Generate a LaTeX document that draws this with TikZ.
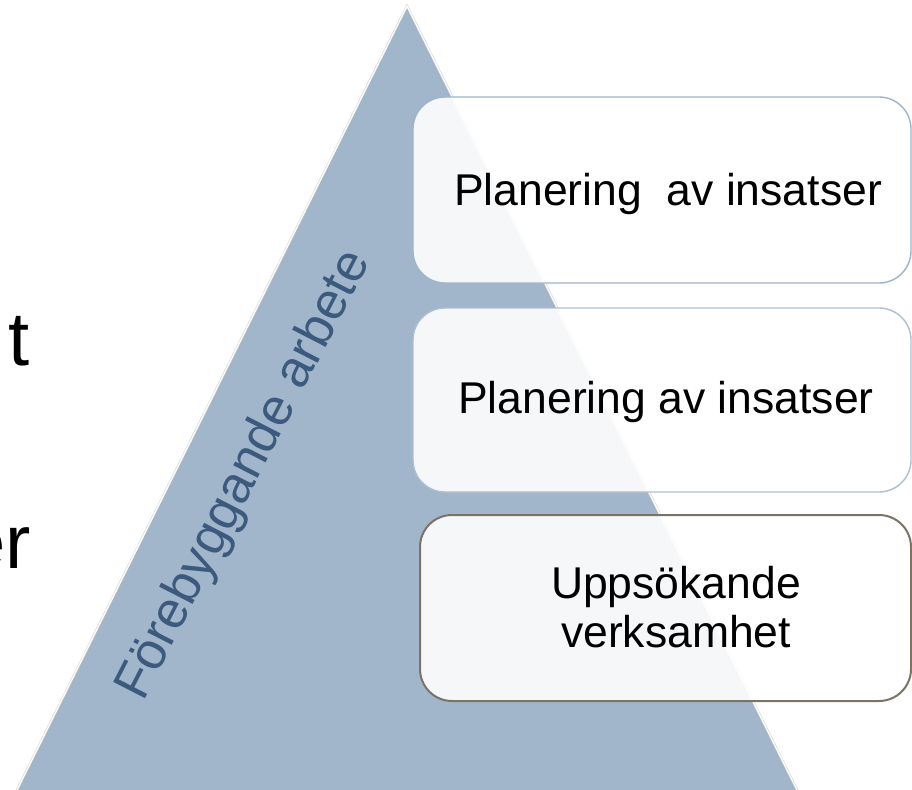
\documentclass[tikz,border=0pt]{standalone}
\usepackage{fontspec}
\setmainfont{Liberation Sans}
\definecolor{pyrfill}{HTML}{A1B6CA}
\definecolor{pyrtext}{HTML}{3B5A7E}
\definecolor{boxlineA}{HTML}{9FB4C9}
\definecolor{boxlineC}{HTML}{7A7466}
\begin{document}
\begin{tikzpicture}[x=1pt,y=-1pt,
  boxstyle/.style={rounded corners=32pt, fill=white, fill opacity=0.9, line width=1.4pt},
  boxtext/.style={font=\fontsize{44.5}{49}\selectfont, text=black, inner sep=0pt, align=center},
  bigtext/.style={font=\fontsize{76}{90}\selectfont, text=black, inner sep=0pt}]
\useasboundingbox (0,0) rectangle (912,789);
\clip (0,0) rectangle (912,789);
% pyramid
\coordinate (apex) at (407,6);
\coordinate (bl) at (12,800);
\coordinate (br) at (802,800);
\fill[pyrfill] (apex) -- (br) -- (bl) -- cycle;
\draw[black!22, line width=0.4pt, double=white, double distance=1.4pt] (bl) -- (apex) -- (br);
% cut-off left text
\node[bigtext, anchor=base east] (tchar) at (30,365) {t};
\node[bigtext, anchor=base east] (erchar) at (31,568) {er};
% rotated pyramid label
\node[anchor=base west, rotate=62.8, inner sep=0pt, text=pyrtext,
      font=\fontsize{52}{60}\selectfont] (pyrlabel) at (143,703) {Förebyggande arbete};
% boxes
\draw[boxstyle, draw=boxlineA] (413,97) rectangle (911,283);
\draw[boxstyle, draw=boxlineA!85] (413,308) rectangle (911,492);
\draw[boxstyle, draw=boxlineC, line width=2pt] (420,515) rectangle (911,701);
\node[boxtext, anchor=base] (b1) at (668,205) {Planering\ \ av insatser};
\node[boxtext, anchor=base] (b2) at (666,413) {Planering av insatser};
\node[boxtext, anchor=center] (b3) at (676,607) {Uppsökande\\verksamhet};
\end{tikzpicture}
\end{document}
